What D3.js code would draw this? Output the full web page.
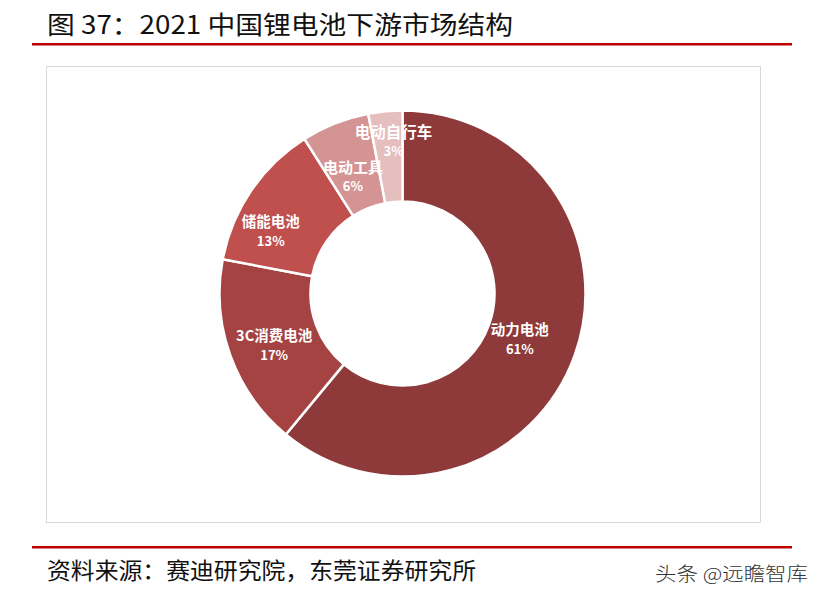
<!DOCTYPE html>
<html>
<head>
<meta charset="utf-8">
<script src="https://cdn.jsdelivr.net/npm/d3@7/dist/d3.min.js"></script>
<style>
  html, body { margin: 0; padding: 0; background: #fff; }
  svg { display: block; }
</style>
</head>
<body>
<svg id="chart" width="821" height="601"></svg>
<script>
// ---- data ----
const categories = ["动力电池", "3C消费电池", "储能电池", "电动工具", "电动自行车"];
const values = [61, 17, 13, 6, 3];
const percentLabels = ["61%", "17%", "13%", "6%", "3%"];
const colors = ["#8E3A3A", "#A54343", "#C0504D", "#D49494", "#E5BEBE"];
// label layout (not data)
const labelNudge = [[-12, -2], [1, 4], [-18, 14], [1, 10], [4, -16]];
const labelSize = [14.5, 14.5, 14.5, 15, 15.5];

const titleText = "图 37：2021 中国锂电池下游市场结构";
const sourceText = "资料来源：赛迪研究院，东莞证券研究所";
const watermarkText = "头条 @远瞻智库";

const svg = d3.select("#chart");
const font = "'Noto Sans CJK SC', 'Noto Sans', sans-serif";

// title
svg.append("text")
  .attr("x", 47).attr("y", 34)
  .attr("font-family", font).attr("font-size", 25)
  .attr("fill", "#111")
  .attr("textLength", 466).attr("lengthAdjust", "spacingAndGlyphs")
  .text(titleText);

// red rules
svg.append("rect").attr("x", 32).attr("y", 43).attr("width", 760).attr("height", 2.5).attr("fill", "#C00000");
svg.append("rect").attr("x", 32).attr("y", 546).attr("width", 760).attr("height", 2.5).attr("fill", "#C00000");

// chart frame
svg.append("rect").attr("x", 46.5).attr("y", 66.5).attr("width", 714).attr("height", 456)
  .attr("fill", "#fff").attr("stroke", "#D9D9D9").attr("stroke-width", 1);

// donut
const cx = 402.5, cy = 293.5, rOuter = 183, rInner = 92;
const pie = d3.pie().sort(null).value(d => d)(values);
const arc = d3.arc().innerRadius(rInner).outerRadius(rOuter);
const labelArc = d3.arc().innerRadius((rInner + rOuter) / 2).outerRadius((rInner + rOuter) / 2);

const g = svg.append("g").attr("transform", `translate(${cx},${cy})`);
g.selectAll("path.slice").data(pie).join("path")
  .attr("class", "slice")
  .attr("d", arc)
  .attr("fill", (d, i) => colors[i])
  .attr("stroke", "#fff").attr("stroke-width", 2.5).attr("stroke-linejoin", "miter");

const labels = g.selectAll("g.lbl").data(pie).join("g")
  .attr("class", "lbl")
  .attr("transform", (d, i) => {
    const c = labelArc.centroid(d);
    return `translate(${c[0] + labelNudge[i][0]},${c[1] + labelNudge[i][1]})`;
  });
labels.append("text")
  .attr("y", -9.5).attr("text-anchor", "middle").attr("dominant-baseline", "central")
  .attr("font-family", font).attr("font-size", (d, i) => labelSize[i]).attr("font-weight", "bold")
  .attr("fill", "#fff")
  .text((d, i) => categories[i]);
labels.append("text")
  .attr("y", 10).attr("text-anchor", "middle").attr("dominant-baseline", "central")
  .attr("font-family", font).attr("font-size", 13).attr("font-weight", "bold")
  .attr("fill", "#fff")
  .text((d, i) => percentLabels[i]);

// footer
svg.append("text")
  .attr("x", 47).attr("y", 579)
  .attr("font-family", font).attr("font-size", 23)
  .attr("fill", "#111")
  .attr("textLength", 429).attr("lengthAdjust", "spacingAndGlyphs")
  .text(sourceText);
svg.append("text")
  .attr("x", 655).attr("y", 581)
  .attr("font-family", font).attr("font-size", 19).attr("font-weight", 300)
  .attr("fill", "#333")
  .attr("textLength", 153).attr("lengthAdjust", "spacingAndGlyphs")
  .text(watermarkText);
</script>
</body>
</html>
